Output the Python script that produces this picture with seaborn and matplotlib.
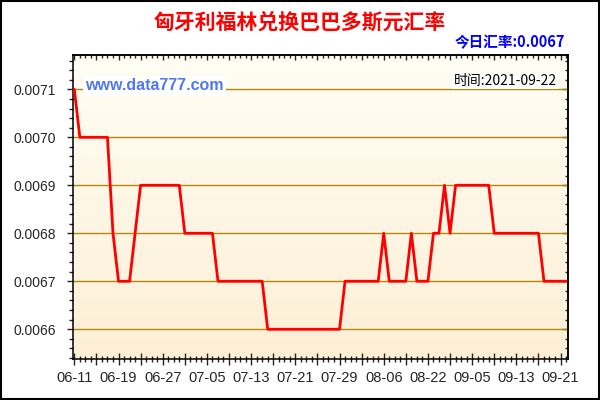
import numpy as np
import pandas as pd
import matplotlib
matplotlib.use('Agg')
import matplotlib.pyplot as plt
import seaborn as sns
from matplotlib.colors import LinearSegmentedColormap
from matplotlib.ticker import MultipleLocator
from matplotlib.patches import Rectangle

# 数据: 每天一个点 (06-11 ... 09-22)
rates = [
    0.0071, 0.0070, 0.0070, 0.0070, 0.0070, 0.0070, 0.0070, 0.0068, 0.0067, 0.0067,
    0.0067, 0.0068, 0.0069, 0.0069, 0.0069, 0.0069, 0.0069, 0.0069, 0.0069, 0.0069,
    0.0068, 0.0068, 0.0068, 0.0068, 0.0068, 0.0068, 0.0067, 0.0067, 0.0067, 0.0067,
    0.0067, 0.0067, 0.0067, 0.0067, 0.0067, 0.0066, 0.0066, 0.0066, 0.0066, 0.0066,
    0.0066, 0.0066, 0.0066, 0.0066, 0.0066, 0.0066, 0.0066, 0.0066, 0.0066, 0.0067,
    0.0067, 0.0067, 0.0067, 0.0067, 0.0067, 0.0067, 0.0068, 0.0067, 0.0067, 0.0067,
    0.0067, 0.0068, 0.0067, 0.0067, 0.0067, 0.0068, 0.0068, 0.0069, 0.0068, 0.0069,
    0.0069, 0.0069, 0.0069, 0.0069, 0.0069, 0.0069, 0.0068, 0.0068, 0.0068, 0.0068,
    0.0068, 0.0068, 0.0068, 0.0068, 0.0068, 0.0067, 0.0067, 0.0067, 0.0067, 0.0067,
]
date_labels = ['06-11', '06-19', '06-27', '07-05', '07-13', '07-21',
               '07-29', '08-06', '08-22', '09-05', '09-13', '09-21']
y_ticks = [0.0066, 0.0067, 0.0068, 0.0069, 0.0070, 0.0071]

title = '匈牙利福林兑换巴巴多斯元汇率'
today_text = '今日汇率:0.0067'
time_text = '时间:2021-09-22'
site_text = 'www.data777.com'

df = pd.DataFrame({'idx': np.arange(len(rates)), 'rate': rates})

sns.set_style('ticks')
plt.rcParams['font.family'] = ['Liberation Sans', 'Noto Sans CJK SC', 'DejaVu Sans']
cjk = ['Noto Sans CJK SC', 'DejaVu Sans']

fig = plt.figure(figsize=(6, 4), dpi=100)
fig.patch.set_facecolor('white')
ax = fig.add_axes([0.1222, 0.1025, 0.824, 0.76])

# 背景渐变
cmap = LinearSegmentedColormap.from_list('bg', ['#FDEFD6', '#FFFEF4'])
grad = np.linspace(0, 1, 256).reshape(-1, 1)
ax.imshow(grad, extent=[0, 1, 0, 1], transform=ax.transAxes, origin='lower',
          aspect='auto', cmap=cmap, zorder=0)

sns.lineplot(data=df, x='idx', y='rate', color='#FF0000', linewidth=2.0, ax=ax, zorder=3)

ax.set_xlim(-0.18, 89.3)
ax.set_ylim(0.006538, 0.0071715)
ax.set_xlabel('')
ax.set_ylabel('')

# y轴
ax.set_yticks(y_ticks)
ax.set_yticklabels([f'{v:.4f}' for v in y_ticks], fontsize=10)
ax.yaxis.set_minor_locator(MultipleLocator(0.00002))
ax.tick_params(axis='y', which='major', direction='out', length=4.5, width=1, pad=8)
ax.tick_params(axis='y', which='minor', direction='out', length=3, width=1)
ax.yaxis.grid(True, which='major', color='#B8860B', linewidth=1)
ax.set_axisbelow(True)

# x轴
pos = list(range(0, len(rates), 4))
labs = [date_labels[p // 8] if p % 8 == 0 else '' for p in pos]
ax.set_xticks(pos)
ax.set_xticklabels(labs, fontsize=10.5)
ax.xaxis.set_minor_locator(MultipleLocator(1))
ax.tick_params(axis='x', which='major', direction='inout', length=8, width=1, pad=4.5)
ax.tick_params(axis='x', which='minor', direction='inout', length=4.5, width=1)

# 上、右刻度
top = ax.secondary_xaxis('top')
top.set_xticks(pos)
top.xaxis.set_minor_locator(MultipleLocator(1))
top.tick_params(which='major', direction='in', length=3.5, width=1, labeltop=False)
top.tick_params(which='minor', direction='in', length=2.5, width=1)
right = ax.secondary_yaxis('right')
right.set_yticks(y_ticks)
right.yaxis.set_minor_locator(MultipleLocator(0.00002))
right.tick_params(which='major', direction='in', length=4, width=1, labelright=False)
right.tick_params(which='minor', direction='in', length=2.5, width=1)

for a in (ax, top, right):
    for s in a.spines.values():
        s.set_linewidth(1.1)
        s.set_color('black')

# 文字
fig.text(0.5, 0.945, title, ha='center', va='center', fontsize=15,
         fontweight='bold', color='#FF0000', family=cjk)
fig.text(0.942, 0.895, today_text, ha='right', va='center', fontsize=10.5,
         fontweight='bold', color='#0000FF', family=cjk)
fig.text(0.142, 0.785, site_text, ha='left', va='center', fontsize=11.5,
         fontweight='bold', color='#5078F0',
         bbox=dict(facecolor='white', edgecolor='none', pad=1.5))
fig.text(0.928, 0.7975, time_text, ha='right', va='center', fontsize=10,
         color='black', family=cjk,
         bbox=dict(facecolor='white', edgecolor='none', pad=1.0))

# 外框
fig.patches.append(Rectangle((0.0015, 0.0025), 0.997, 0.995, transform=fig.transFigure,
                             fill=False, edgecolor='black', linewidth=1.5))

fig.savefig('out.png', dpi=100)
